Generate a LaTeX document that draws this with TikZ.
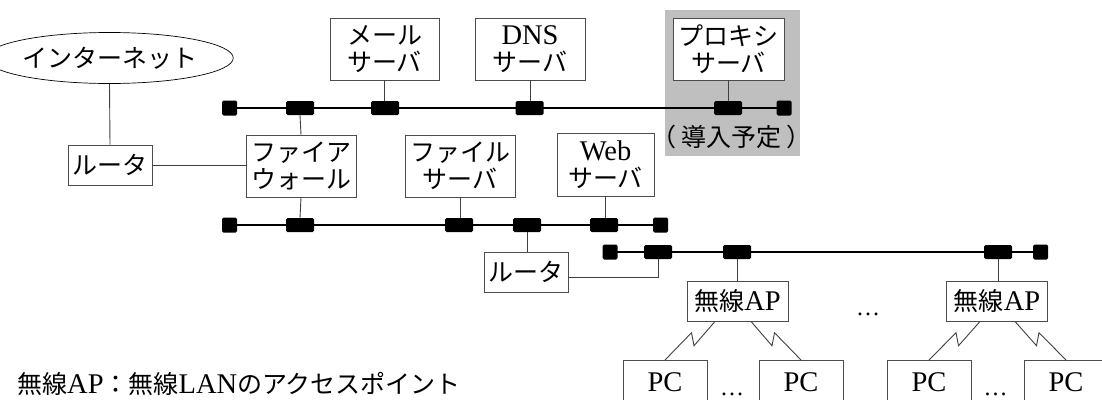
\documentclass[tikz,border=0pt]{standalone}
\usepackage{fontspec}
\setmainfont{Liberation Serif}
\newfontfamily\jpfam{Noto Sans CJK JP}
\usetikzlibrary{shapes.geometric,calc}
\newcommand\Lt[1]{{\fontsize{28.5}{27}\selectfont\rmfamily #1}}
\begin{document}
\begin{tikzpicture}[x=1pt,y=-1pt,
  jp/.style={font=\fontsize{25}{27}\selectfont\jpfam},
  box/.style={jp, draw=black!70, line width=0.9pt, fill=white, inner sep=0pt, align=center},
  blk/.style={fill=black, draw=none, minimum width=28pt, minimum height=14pt, inner sep=0pt, rounded corners=1.5pt},
  term/.style={fill=black, draw=none, minimum width=15pt, minimum height=15pt, inner sep=0pt, rounded corners=1.5pt},
  bus/.style={draw=black, line width=1.6pt},
  conn/.style={draw=black!75, line width=0.9pt},
  plain/.style={inner sep=0pt}
]
\useasboundingbox (0,0) rectangle (1102,399);
\fill[white] (0,0) rectangle (1102,399);

% planned area
\node[fill=black!25, draw=none, minimum width=135pt, minimum height=146pt, inner sep=0pt] (area) at (732.5,83) {};
\node[jp, plain] (plan) at (731.5,137) {（\hspace{5pt}導入予定\hspace{5pt}）};

% nodes
\node[jp, ellipse, draw=black, line width=0.7pt, minimum width=199pt, minimum height=51pt, inner sep=0pt] (inet) at (109.5,58) {インターネット};
\node[box, minimum width=84pt, minimum height=40pt] (r1) at (110,165) {ルータ};
\node[box, minimum width=110pt, minimum height=62pt] (fw) at (301,166) {ファイア\\ウォール};
\node[box, minimum width=109pt, minimum height=62pt] (mail) at (384.5,49) {メール\\サーバ};
\node[box, minimum width=110pt, minimum height=62pt] (dns) at (530,49) {\Lt{DNS}\\サーバ};
\node[box, minimum width=111pt, minimum height=62pt] (proxy) at (728.5,49) {プロキシ\\サーバ};
\node[box, minimum width=110pt, minimum height=62pt] (file) at (460,166) {ファイル\\サーバ};
\node[box, minimum width=97pt, minimum height=63pt] (web) at (605.5,165) {\Lt{Web}\\サーバ};
\node[box, minimum width=84pt, minimum height=40pt] (r2) at (526,272) {ルータ};
\node[box, minimum width=101pt, minimum height=40pt] (ap1) at (737.5,301) {無線\Lt{AP}};
\node[box, minimum width=101pt, minimum height=40pt] (ap2) at (997,301) {無線\Lt{AP}};
\node[box, minimum width=84pt, minimum height=44pt, anchor=north] (pc1) at (665,360) {\Lt{PC}};
\node[box, minimum width=84pt, minimum height=44pt, anchor=north] (pc2) at (801,360) {\Lt{PC}};
\node[box, minimum width=84pt, minimum height=44pt, anchor=north] (pc3) at (929,360) {\Lt{PC}};
\node[box, minimum width=84pt, minimum height=44pt, anchor=north] (pc4) at (1066,360) {\Lt{PC}};

% buses
\coordinate (uL) at (229.5,108);
\coordinate (uR) at (784,108);
\coordinate (lL) at (229.5,225);
\coordinate (lR) at (660.5,225);
\coordinate (wL) at (610,252);
\coordinate (wR) at (1040.5,252);
\draw[bus] (uL) -- (uR);
\draw[bus] (lL) -- (lR);
\draw[bus] (wL) -- (wR);
\node[term] (tuL) at (uL) {};
\node[term] (tuR) at (uR) {};
\node[term] (tlL) at (lL) {};
\node[term] (tlR) at (lR) {};
\node[term] (twL) at (wL) {};
\node[term] (twR) at (wR) {};

\node[blk] (bfwU) at (300,108) {};
\node[blk] (bmail) at (385,108) {};
\node[blk] (bdns) at (529.5,108) {};
\node[blk] (bproxy) at (728,108) {};
\node[blk] (bfwL) at (300,225) {};
\node[blk] (bfile) at (459,225) {};
\node[blk] (br2) at (527,225) {};
\node[blk] (bweb) at (604,225) {};
\node[blk] (br2w) at (658,252) {};
\node[blk] (bap1) at (737,252) {};
\node[blk] (bap2) at (998,252) {};

% connectors
\draw[conn] (inet.south) -- (r1.north);
\draw[conn] (r1.east) -- (r1.east -| fw.west);
\draw[conn] (fw.north) -- (bfwU.south);
\draw[conn] (fw.south) -- (bfwL.north);
\draw[conn] (mail.south) -- (mail.south |- bmail.north);
\draw[conn] (dns.south) -- (dns.south |- bdns.north);
\draw[conn] (proxy.south) -- (proxy.south |- bproxy.north);
\draw[conn] (file.south) -- (file.south |- bfile.north);
\draw[conn] (web.south) -- (web.south |- bweb.north);
\draw[conn] (br2.south) -- (br2.south |- r2.north);
\draw[conn] ($(r2.east)+(0,5)$) -| (br2w.south);
\draw[conn] (bap1.south) -- (bap1.south |- ap1.north);
\draw[conn] (bap2.south) -- (bap2.south |- ap2.north);

% wireless links
\coordinate (a1l) at ($(ap1.south)+(-22.5,0)$);
\coordinate (a1r) at ($(ap1.south)+(13.5,0)$);
\coordinate (a2l) at ($(ap2.south)+(-17,0)$);
\coordinate (a2r) at ($(ap2.south)+(18,0)$);
\draw[conn] (a1l) -- ($(a1l)!0.5!(pc1.north)+(4,5)$) -- ($(a1l)!0.5!(pc1.north)+(1.5,-8)$) -- (pc1.north);
\draw[conn] (a1r) -- ($(a1r)!0.5!(pc2.north)+(-4,5)$) -- ($(a1r)!0.5!(pc2.north)+(-1.5,-8)$) -- (pc2.north);
\draw[conn] (a2l) -- ($(a2l)!0.5!(pc3.north)+(4,5)$) -- ($(a2l)!0.5!(pc3.north)+(1.5,-8)$) -- (pc3.north);
\draw[conn] (a2r) -- ($(a2r)!0.5!(pc4.north)+(-4,5)$) -- ($(a2r)!0.5!(pc4.north)+(-1.5,-8)$) -- (pc4.north);

% ellipses
\node[plain, font=\fontsize{24}{24}\selectfont, anchor=base] (d1) at (868,315) {…};
\node[plain, font=\fontsize{24}{24}\selectfont, anchor=base] (d2) at (732,395) {…};
\node[plain, font=\fontsize{24}{24}\selectfont, anchor=base] (d3) at (995.5,395) {…};

% legend
\node[jp, plain, anchor=west] (legend) at (17,384) {無線\Lt{AP}：無線\Lt{LAN}のアクセスポイント};
\end{tikzpicture}
\end{document}
